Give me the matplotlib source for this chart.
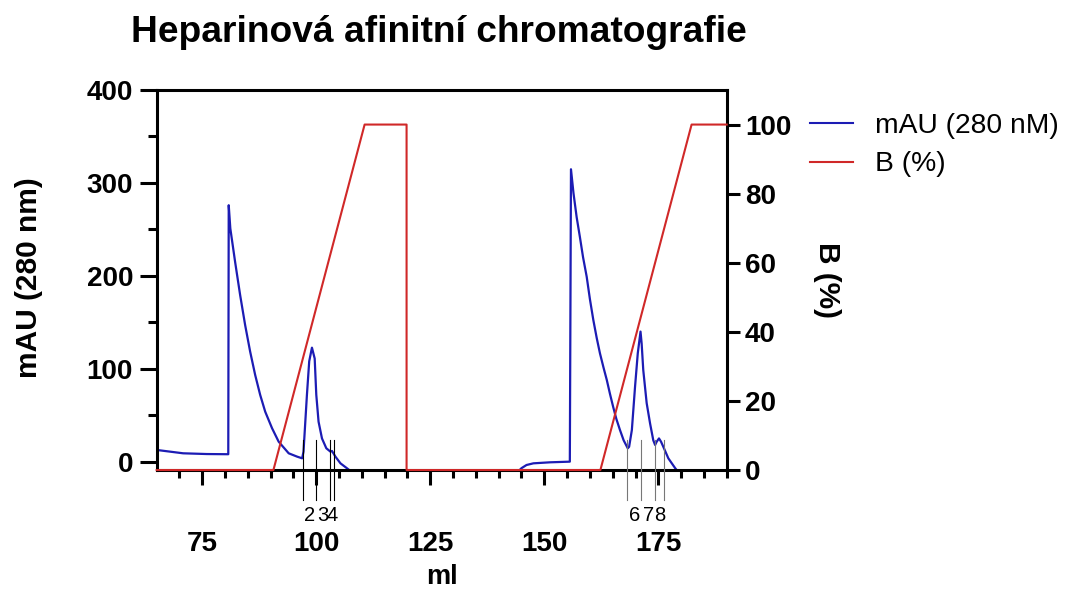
import matplotlib
matplotlib.use("Agg")
import matplotlib.pyplot as plt
import matplotlib.transforms as mtransforms
from matplotlib.ticker import MultipleLocator, FixedLocator

plt.rcParams['font.family'] = ['Liberation Sans', 'DejaVu Sans']

# UV absorbance trace (ml, mAU)
mau_ml = [65.0, 70.8, 76.0, 80.7, 80.8, 81.15, 82.2, 83.3, 84.4, 85.5, 86.6,
          87.7, 88.8, 90.3, 91.75, 93.95, 95.8, 96.9, 97.2, 97.95, 98.45, 99.05,
          99.65, 100.0, 100.5, 101.25, 102.2, 103.1, 103.45, 104.2, 105.3, 106.7,
          108.0, 144.0, 145.0, 146.1, 147.6, 151.25, 155.6, 155.85, 156.4, 157.1,
          157.8, 158.5, 159.3, 160.0, 160.75, 161.5, 162.2, 163.0, 163.7, 164.4,
          165.1, 165.8, 166.6, 167.4, 168.3, 168.6, 169.2, 169.9, 170.5, 171.1,
          171.35, 171.7, 172.45, 173.2, 173.9, 174.3, 174.65, 175.15, 175.6,
          176.1, 177.2, 178.7, 179.5]
mau_val = [12.6, 9.0, 8.2, 8.0, 276.0, 251.0, 215.0, 179.4, 147.0, 118.4, 93.3,
           71.8, 53.8, 36.0, 21.5, 9.0, 5.4, 3.6, 10.8, 72.0, 108.0, 122.7,
           111.0, 72.0, 43.0, 25.0, 14.4, 10.8, 11.5, 5.4, -1.8, -7.0,
           -12.0, -12.0, -7.0, -3.6, -1.8, -0.7, 0.0, 314.7, 289.0, 263.0,
           242.0, 220.0, 199.0, 175.0, 152.5, 133.0, 116.7, 101.0, 88.0, 73.0,
           59.0, 46.0, 34.0, 23.0, 14.4, 16.0, 34.0, 80.7, 116.7, 140.0,
           127.0, 98.7, 63.0, 41.0, 23.0, 18.0, 21.5, 25.0, 21.5,
           16.0, 3.6, -7.0, -12.0]

# buffer B gradient (ml, %)
b_ml = [65.0, 90.6, 110.6, 119.8, 119.8, 162.3, 182.3, 190.0]
b_val = [0, 0, 100, 100, 0, 0, 100, 100]

# fraction marks
frac_a = [97.0, 99.9, 103.0, 103.9]
frac_a_labels = ["2", "3", "4"]
frac_b = [168.2, 171.3, 174.3, 176.2]
frac_b_labels = ["6", "7", "8"]

BLUE = "#1c1cb4"
RED = "#d02828"
LW = 2.2

fig = plt.figure(figsize=(10.79, 5.91), dpi=100)
ax = fig.add_axes([0.1452, 0.2047, 0.5283, 0.643])
ax2 = ax.twinx()

l1, = ax.plot(mau_ml, mau_val, color=BLUE, lw=1.6, label="mAU (280 nM)")
l2, = ax2.plot(b_ml, b_val, color=RED, lw=1.5, label="B (%)", clip_on=False, zorder=3)

ax.set_xlim(65, 190)
ax.set_ylim(-9, 400)
ax2.set_ylim(0, 110)

ax.xaxis.set_major_locator(FixedLocator([75, 100, 125, 150, 175]))
ax.xaxis.set_minor_locator(FixedLocator([70, 80, 85, 90, 95, 105, 110, 115, 120,
                                         130, 135, 140, 145, 155, 160, 165, 170,
                                         180, 185, 190]))
ax.yaxis.set_major_locator(MultipleLocator(100))
ax.yaxis.set_minor_locator(MultipleLocator(50))
ax2.yaxis.set_major_locator(MultipleLocator(20))

for s in ["left", "bottom", "top"]:
    ax.spines[s].set_linewidth(LW)
ax.spines["right"].set_visible(False)
for s in ["left", "bottom", "top"]:
    ax2.spines[s].set_visible(False)
ax2.spines["right"].set_linewidth(LW)

ax.tick_params(axis="x", which="major", length=11, width=LW, pad=33, labelsize=20)
ax.tick_params(axis="x", which="minor", length=6, width=LW)
ax.tick_params(axis="y", which="major", length=12, width=LW, pad=5, labelsize=20)
ax.tick_params(axis="y", which="minor", length=6.5, width=LW)
ax2.tick_params(axis="y", which="major", length=9.5, width=LW, pad=3.5, labelsize=20)
for lab in ax.get_xticklabels() + ax.get_yticklabels() + ax2.get_yticklabels():
    lab.set_fontweight("bold")

ax.set_xlabel("ml", fontsize=19.5, fontweight="bold", labelpad=5)
ax.set_ylabel("mAU (280 nm)", fontsize=21.5, fontweight="bold")
ax.yaxis.set_label_coords(-0.2, 0.505)
ax2.set_ylabel("B (%)", fontsize=21.5, fontweight="bold", rotation=270, va="center")
ax2.yaxis.set_label_coords(1.176, 0.5)

fig.text(0.407, 0.929, "Heparinová afinitní chromatografie", fontsize=26.7,
         fontweight="bold", ha="center", va="baseline")

# fraction markers below the axis
trans = mtransforms.blended_transform_factory(ax.transData, ax.transAxes)
for fr, labs, col in [(frac_a, frac_a_labels, "black"), (frac_b, frac_b_labels, "#777777")]:
    for x in fr:
        ax.plot([x, x], [0.079, -0.079], transform=trans, color=col, lw=0.8,
                clip_on=False, zorder=4)
    for i, t in enumerate(labs):
        ax.text((fr[i] + fr[i + 1]) / 2, -0.12, t, transform=trans, fontsize=14.5,
                ha="center", va="center")

leg = ax2.legend(handles=[l1, l2], loc="upper left", bbox_to_anchor=(1.127, 0.97),
                 frameon=False, fontsize=20.3, handlelength=1.5, handletextpad=0.8,
                 labelspacing=0.45, borderaxespad=0)
for h in leg.get_lines():
    h.set_linewidth(1.5)

fig.savefig("out.png", dpi=100)
